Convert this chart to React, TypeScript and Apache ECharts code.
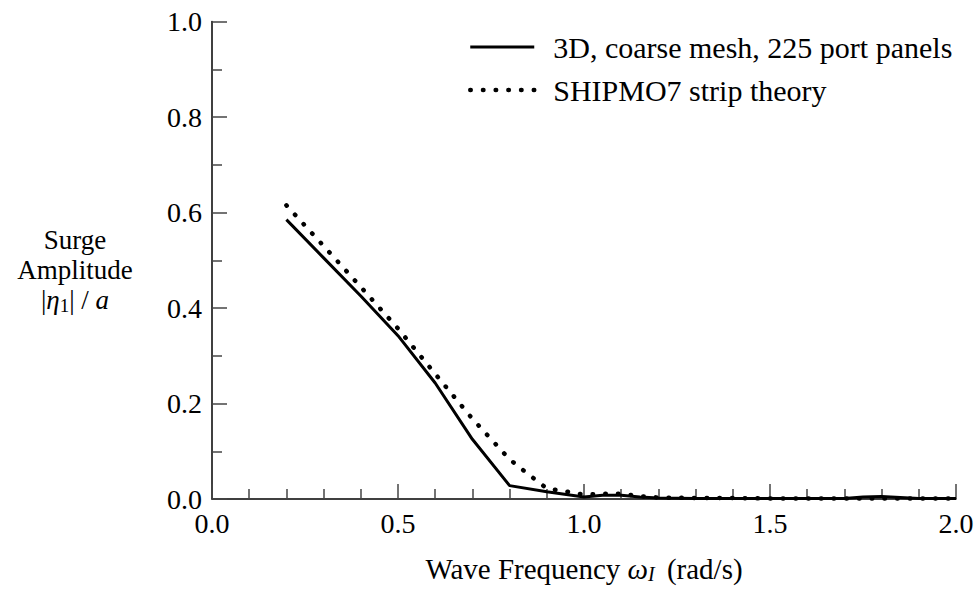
import React, { useEffect, useRef } from 'react';
import * as echarts from 'echarts';

const seriesNames = ['3D, coarse mesh, 225 port panels', 'SHIPMO7 strip theory'];

const meshX = [0.2, 0.3, 0.4, 0.5, 0.6, 0.7, 0.8, 0.9, 1.0, 1.05, 1.1, 1.15, 1.2, 1.3, 1.4, 1.5, 1.6, 1.7, 1.75, 1.8, 1.85, 1.9, 2.0];
const meshY = [0.585, 0.505, 0.425, 0.342, 0.243, 0.125, 0.028, 0.015, 0.004, 0.008, 0.008, 0.004, 0.002, 0.001, 0.001, 0.001, 0.001, 0.001, 0.004, 0.005, 0.003, 0.001, 0.001];

const stripX = [0.2, 0.3, 0.4, 0.5, 0.6, 0.7, 0.8, 0.85, 0.9, 0.95, 1.0, 1.05, 1.1, 1.15, 1.2, 1.3, 1.4, 1.5, 1.6, 1.7, 1.8, 1.9, 2.0];
const stripY = [0.615, 0.530, 0.444, 0.357, 0.262, 0.168, 0.083, 0.052, 0.022, 0.016, 0.009, 0.011, 0.011, 0.006, 0.003, 0.002, 0.002, 0.001, 0.001, 0.001, 0.001, 0.001, 0.001];

const FONT = '"Liberation Serif", "Times New Roman", serif';

export default function App() {
  const ref = useRef<HTMLDivElement>(null);
  useEffect(() => {
    const chart = echarts.init(ref.current!, null, { renderer: 'svg' });
    const tickStyle = { color: '#444', width: 1.5 };
    chart.setOption({
      animation: false,
      backgroundColor: '#fff',
      grid: { left: 212, right: 23, top: 21.5, bottom: 89.6, containLabel: false },
      legend: {
        orient: 'vertical',
        left: 463,
        top: 27,
        itemWidth: 64,
        itemHeight: 20,
        itemGap: 13,
        data: seriesNames,
        lineStyle: { width: 'inherit' },
        itemStyle: { color: 'rgba(0,0,0,0)', borderWidth: 0, opacity: 0 },
        textStyle: { fontFamily: FONT, fontSize: 30, color: '#000', padding: [0, 0, 0, 14] },
      },
      xAxis: {
        type: 'value',
        min: 0,
        max: 2,
        interval: 0.5,
        axisLine: { lineStyle: { color: '#000', width: 1.5 } },
        axisTick: { inside: true, length: 15, lineStyle: tickStyle },
        minorTick: { show: true, splitNumber: 5, length: 10, lineStyle: tickStyle },
        splitLine: { show: false },
        axisLabel: { formatter: (v: number) => v.toFixed(1), fontFamily: FONT, fontSize: 28, color: '#000', margin: 10 },
        name: 'Wave Frequency {i|ω}{s|I} (rad/s)',
        nameLocation: 'middle',
        nameGap: 55,
        nameTextStyle: {
          fontFamily: FONT, fontSize: 29, color: '#000',
          rich: {
            i: { fontFamily: FONT, fontStyle: 'italic', fontSize: 29, color: '#000' },
            s: { fontFamily: FONT, fontStyle: 'italic', fontSize: 20, color: '#000', padding: [10, 5, 0, 0] },
          },
        },
      },
      yAxis: {
        type: 'value',
        min: 0,
        max: 1,
        interval: 0.2,
        axisLine: { show: true, lineStyle: { color: '#000', width: 1.5 } },
        axisTick: { show: true, inside: true, length: 15, lineStyle: tickStyle },
        minorTick: { show: true, splitNumber: 2, length: 10, lineStyle: tickStyle },
        splitLine: { show: false },
        axisLabel: { formatter: (v: number) => v.toFixed(1), fontFamily: FONT, fontSize: 28, color: '#000', margin: 10 },
        name: 'Surge\nAmplitude\n|{i|η}{s|1}| / {i|a}',
        nameLocation: 'middle',
        nameRotate: 0,
        nameGap: 137,
        nameTextStyle: {
          fontFamily: FONT, fontSize: 27, color: '#000', align: 'center', verticalAlign: 'middle', lineHeight: 30,
          padding: [20, 0, 0, 0],
          rich: {
            i: { fontFamily: FONT, fontStyle: 'italic', fontSize: 27, color: '#000', lineHeight: 30 },
            s: { fontFamily: FONT, fontSize: 19, color: '#000', padding: [10, 0, 0, 0], lineHeight: 30 },
          },
        },
      },
      series: [
        {
          name: seriesNames[0],
          type: 'line',
          symbol: 'none',
          data: meshX.map((x, i) => [x, meshY[i]]),
          lineStyle: { color: '#000', width: 3 },
          itemStyle: { color: '#000' },
        },
        {
          name: seriesNames[1],
          type: 'line',
          symbol: 'none',
          data: stripX.map((x, i) => [x, stripY[i]]),
          lineStyle: { color: '#000', width: 4.5, type: [0.5, 12.2], cap: 'round' },
          itemStyle: { color: '#000' },
        },
      ],
    });
    return () => chart.dispose();
  }, []);
  return <div ref={ref} style={{ position: 'fixed', left: 0, top: 0, width: 979, height: 589 }} />;
}
